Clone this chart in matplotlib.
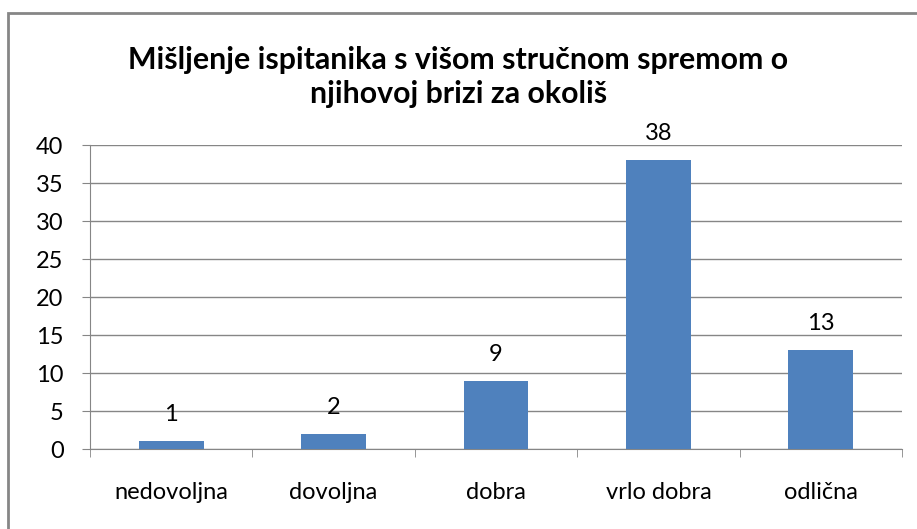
import matplotlib.pyplot as plt
from matplotlib.patches import Rectangle

categories = ["nedovoljna", "dovoljna", "dobra", "vrlo dobra", "odlična"]
values = [1, 2, 9, 38, 13]
yticks = [0, 5, 10, 15, 20, 25, 30, 35, 40]
title = "Mišljenje ispitanika s višom stručnom spremom o\nnjihovoj brizi za okoliš"

plt.rcParams['font.family'] = ['Lato', 'DejaVu Sans']

fig = plt.figure(figsize=(9.17, 5.29), dpi=100)
ax = fig.add_axes([90/917, 80/529, 812/917, 304/529])

# outer chart border (cut off on right/bottom like the screenshot)
fig.patches.append(Rectangle((8/917, -0.05), 1.0, (529-13)/529 + 0.05,
                             transform=fig.transFigure, fill=False,
                             edgecolor="#868686", linewidth=2))

x = list(range(len(categories)))
bars = ax.bar(x, values, width=0.4, color="#4F81BD", zorder=3)
for xi, v in zip(x, values):
    ax.text(xi, v + 2.1, str(v), ha="center", va="bottom", fontsize=17)

ax.set_xlim(-0.5, len(categories) - 0.5)
ax.set_ylim(0, 40)
ax.set_yticks(yticks)
ax.tick_params(axis="y", labelsize=17, length=6, color="#868686", pad=13)
ax.set_xticks(x)
ax.set_xticklabels(categories)
ax.tick_params(axis="x", which="major", length=0, labelsize=17, pad=24)
ax.set_xticks([i - 0.5 for i in range(len(categories) + 1)], minor=True)
ax.tick_params(axis="x", which="minor", length=6, color="#868686")

ax.grid(axis="y", color="#868686", linewidth=1, zorder=0)
for s in ["top", "right"]:
    ax.spines[s].set_visible(False)
for s in ["left", "bottom"]:
    ax.spines[s].set_color("#868686")

fig.text(0.5, 1 - 77/529, title, ha="center", va="center",
         fontsize=21.8, fontweight="bold", linespacing=1.28)

fig.savefig("out.png", dpi=100)
